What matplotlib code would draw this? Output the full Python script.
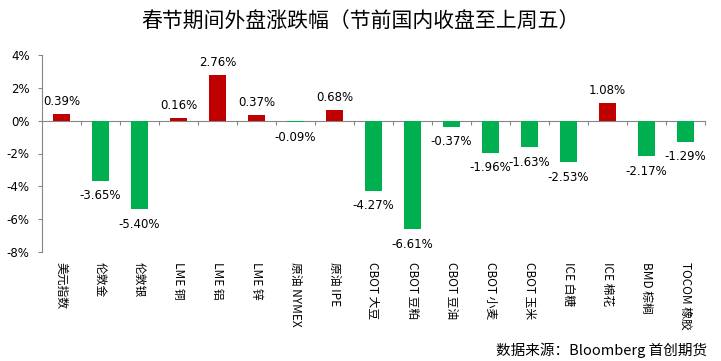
import matplotlib
matplotlib.use("Agg")
import matplotlib.pyplot as plt
import numpy as np

plt.rcParams['font.family'] = ['Noto Sans CJK SC', 'DejaVu Sans']

categories = ["美元指数", "伦敦金", "伦敦银", "LME 铜", "LME 铝", "LME 锌", "原油 NYMEX", "原油 IPE",
              "CBOT 大豆", "CBOT 豆粕", "CBOT 豆油", "CBOT 小麦", "CBOT 玉米", "ICE 白糖", "ICE 棉花",
              "BMD 棕榈", "TOCOM 橡胶"]
values = [0.39, -3.65, -5.40, 0.16, 2.76, 0.37, -0.09, 0.68,
          -4.27, -6.61, -0.37, -1.96, -1.63, -2.53, 1.08, -2.17, -1.29]
yticks = [-8, -6, -4, -2, 0, 2, 4]
title = "春节期间外盘涨跌幅（节前国内收盘至上周五）"
source = "数据来源：Bloomberg 首创期货"

RED = "#C00000"
GREEN = "#00B050"
AXC = "#868686"

fig = plt.figure(figsize=(7.21, 3.61), dpi=100)
ax = fig.add_axes([42/721, 1-252/361, (705-42)/721, (252-55)/361])

x = np.arange(len(categories))
colors = [RED if v >= 0 else GREEN for v in values]
ax.bar(x, values, width=0.44, color=colors, zorder=2)

ax.set_xlim(-0.5, len(categories) - 0.5)
ax.set_ylim(-8, 4)
ax.set_yticks(yticks)
ax.set_yticklabels([f"{t}%" for t in yticks], family='DejaVu Sans', fontsize=8.5)

for s in ['top', 'right', 'bottom']:
    ax.spines[s].set_visible(False)
ax.spines['left'].set_color(AXC)
ax.tick_params(axis='y', length=3, color=AXC, pad=6)

ax.set_xticks(x)
ax.set_xticklabels(categories, rotation=270, fontsize=8.5, va='top', ha='center')
ax.tick_params(axis='x', length=0, pad=7)

# zero axis line with category boundary ticks
sec = ax.secondary_xaxis(0, transform=ax.transData)
sec.spines['bottom'].set_color(AXC)
sec.set_xticks(np.arange(-0.5, len(categories), 1.0)[1:])
sec.set_xticklabels([])
sec.tick_params(axis='x', length=3, color=AXC, direction='out')

for xi, v in zip(x, values):
    off = 12.5 if v >= 0 else -15
    ax.annotate(f"{v:.2f}%", xy=(xi, v), xytext=(0, off * 0.72), textcoords='offset points',
                ha='center', va='center', fontsize=8.5, family='DejaVu Sans')

fig.text(0.5, 1-22/361, title, ha='center', va='center', fontsize=15, weight='light')
fig.text(707/721, 1-350/361, source, ha='right', va='center', fontsize=10.5, weight='light')

fig.savefig("out.png", dpi=100)
